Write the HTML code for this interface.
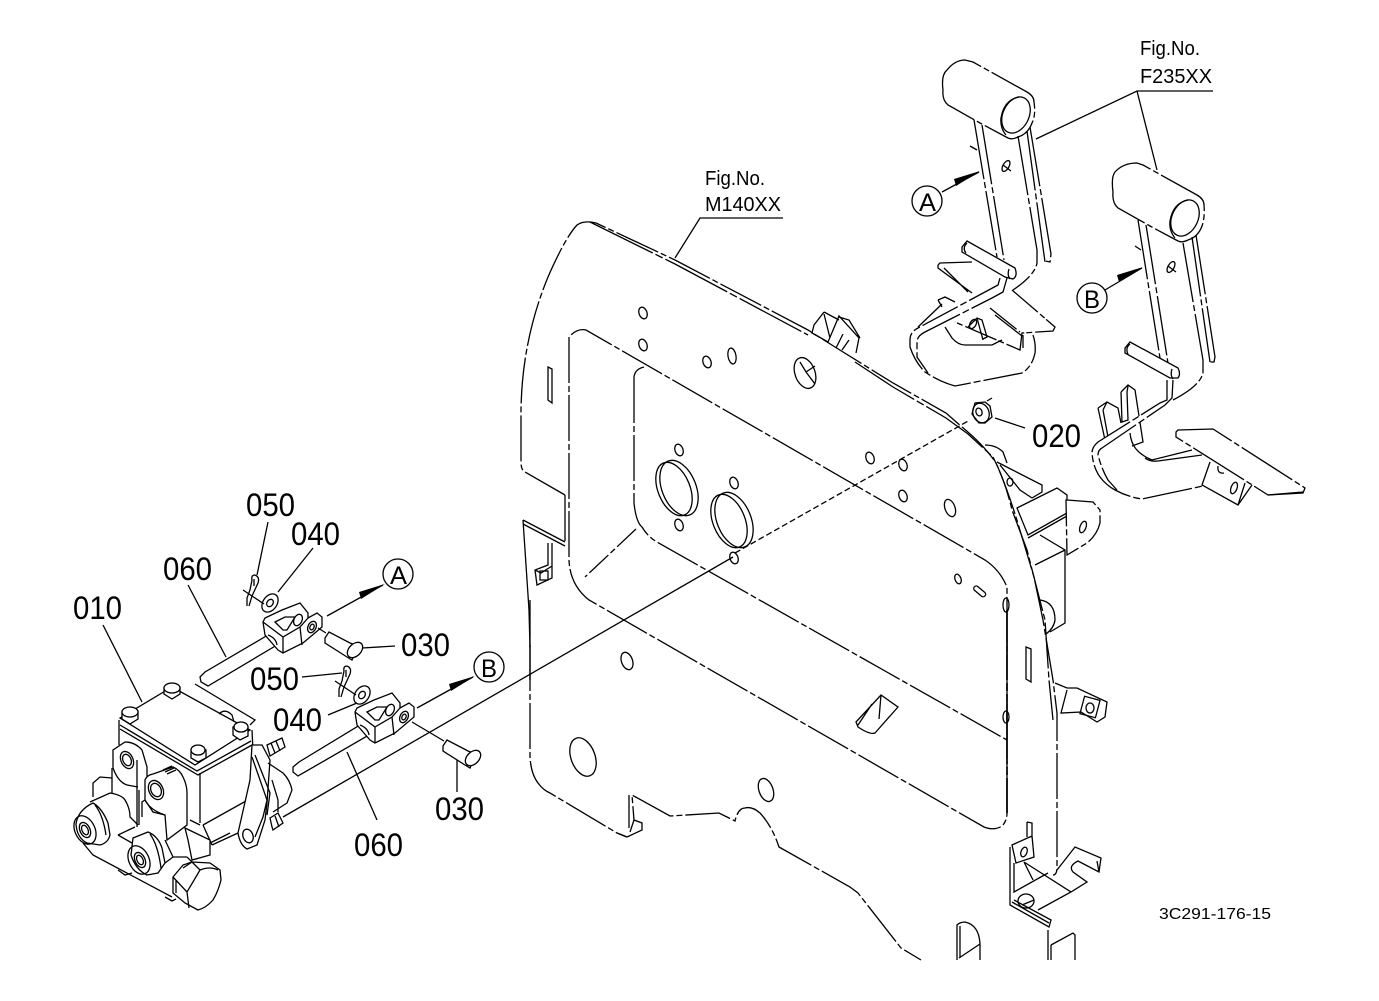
<!DOCTYPE html>
<html><head><meta charset="utf-8"><title>Diagram</title>
<style>
html,body{margin:0;padding:0;background:#fff}
svg{display:block}
text{font-family:"Liberation Sans",sans-serif;fill:#000;stroke:none}
.l{fill:none;stroke:#000;stroke-width:1.3}
.w{fill:#fff;stroke:#000;stroke-width:1.3}
.n{fill:#fff;stroke:none}
.d{stroke-dasharray:46 3 6 3}
.e{stroke-dasharray:70 3 8 3}
.t{stroke-width:1.7}
</style></head><body>
<svg width="1379" height="1001" viewBox="0 0 1379 1001" xmlns="http://www.w3.org/2000/svg">
<rect width="1379" height="1001" fill="#fff"/>

<!-- main panel -->
<g class="l">
<path class="l d" d="M565 495V542M565 495L525 472Q521 470 521 462V410Q522 340 548 277Q565 238 577 225Q584 220 596 223L675 260L808 330L835 347L893 383L946 413L962 427"/>
<path class="l e" d="M590 222L675 264L808 335M855 362L893 387L946 418L968 434L993 457"/>
<path class="l d" d="M962 427Q984 445 996 463Q1008 490 1019 527L1034 577L1043 620L1053 680L1057 713V867Q1057 875 1053 875"/>
<path class="l d" d="M993 457Q1005 480 1012 510L1027 550L1045 620L1049 680L1053 720"/>
<path class="l" d="M523 520L565 542M523 524L565 546M523 520L529 610L530 647"/>
<path class="l d" d="M530 645V757Q531 774 538 783Q543 790 550 793L617 833L627 837"/>
<path class="l" d="M530 600V680"/>
<path class="l d" d="M627 837L642 830V823L634 820L632 795L670 816L719 813L735 821Q738 808 745 808Q752 806 760 813Q772 826 779 847L850 887L858 893L901 948L921 960"/>
<path class="l" d="M634 820L630 832M629 795V828M627 837L617 833"/>
<path class="l d" d="M569 337V560Q570 585 589 600L984 827Q994 831 1002 826Q1007 821 1007 813V587Q1000 570 985 560L586 330Q577 328 569 337"/>
<path class="l t e" d="M1007 610V813"/>
<path class="l d" d="M634 377Q635 369 644 367M634 377V503Q636 522 642 527Q648 537 657 542L1007 740"/>
<path d="M636 529L585 577" stroke-dasharray="26 3 6 3"/>
<ellipse class="l" cx="1006" cy="605" rx="3" ry="7"/><ellipse class="l" cx="1006" cy="717" rx="3" ry="6"/>
</g>

<!-- holes -->
<g class="l">
<ellipse cx="643" cy="313" rx="4" ry="6" transform="rotate(-20 643 313)"/>
<ellipse cx="643" cy="345" rx="4" ry="6" transform="rotate(-20 643 345)"/>
<ellipse cx="707" cy="362" rx="4" ry="6" transform="rotate(-20 707 362)"/>
<ellipse cx="732" cy="356" rx="4" ry="8" transform="rotate(-10 732 356)"/>
<ellipse cx="805" cy="373" rx="10" ry="16" transform="rotate(-20 805 373)"/>
<path d="M800 362L806 372L815 366M806 372L815 384"/>
<ellipse cx="679" cy="450" rx="4" ry="6" transform="rotate(-20 679 450)"/>
<ellipse cx="734" cy="483" rx="4" ry="6" transform="rotate(-20 734 483)"/>
<ellipse cx="679" cy="525" rx="4" ry="6" transform="rotate(-20 679 525)"/>
<ellipse cx="734" cy="558" rx="4" ry="6" transform="rotate(-20 734 558)"/>
<ellipse cx="870" cy="458" rx="4" ry="6" transform="rotate(-20 870 458)"/>
<ellipse cx="903" cy="465" rx="4" ry="6" transform="rotate(-20 903 465)"/>
<ellipse cx="903" cy="496" rx="4" ry="6" transform="rotate(-20 903 496)"/>
<ellipse cx="950" cy="508" rx="5" ry="9" transform="rotate(-20 950 508)"/>
<ellipse cx="958" cy="579" rx="3" ry="5" transform="rotate(-20 958 579)"/>
<rect x="973" y="589" width="14" height="5" rx="2.5" transform="rotate(40 980 591)"/>
<ellipse cx="679" cy="488" rx="17" ry="29" transform="rotate(-22 679 488)"/>
<ellipse cx="674" cy="489" rx="16" ry="28" transform="rotate(-22 674 489)"/>
<ellipse cx="734" cy="520" rx="17" ry="29" transform="rotate(-22 734 520)"/>
<ellipse cx="729" cy="521" rx="16" ry="28" transform="rotate(-22 729 521)"/>
<ellipse cx="627" cy="661" rx="5.5" ry="9" transform="rotate(-20 627 661)"/>
<ellipse cx="583" cy="757" rx="12" ry="20" transform="rotate(-20 583 757)"/>
<ellipse cx="766" cy="790" rx="7" ry="12" transform="rotate(-20 766 790)"/>
<path d="M856 722L881 695L898 707L875 733Q870 735 858 727ZM881 695L879 719M872 704L858 725"/>
<path d="M548 367L552 369V403L548 400Z"/>
<path d="M1026 647L1031 649V682L1026 679Z"/>
</g>

<!-- brackets on panel -->
<g class="l">
<path d="M548 543V565L535 570L537 585L552 578V543M535 570L541 573L552 566"/><rect x="540" y="571" width="8" height="9"/>
<path d="M824 312L814 325L812 333L828 342L839 316L859 338L856 353M824 312L839 320M839 317L849 320L860 338M824 314L830 338M843 334L836 348M849 340L842 350"/>
<path d="M997 462L1042 485V492L1032 498M985 445Q996 445 1003 452L1007 463M1000 465L1012 480L1020 490L1032 498"/>
<ellipse cx="1010" cy="482" rx="3" ry="4"/>
<path class="w" d="M1017 508L1057 488L1067 495V513L1028 535Z"/>
<path d="M1028 538L1067 516"/>
<path class="w" d="M1067 500L1093 502L1100 510V523Q1097 535 1087 543L1067 555L1066 500Z" stroke-dasharray="30 3 6 3"/>
<ellipse cx="1083" cy="527" rx="3" ry="6" transform="rotate(20 1083 527)"/>
<path d="M1040 535L1065 550V623L1050 632M1035 565L1065 550M1040 600Q1055 602 1055 620Q1054 628 1046 634"/>
<path d="M1055 683L1067 688H1077L1107 702L1105 717L1097 722L1081 712L1061 713L1067 690"/>
<rect x="1082" y="698" width="16" height="18" transform="rotate(15 1090 707)"/>
<ellipse cx="1090" cy="708" rx="4" ry="5"/>
<path d="M1027 822L1032 823V838M1027 822V837M1012 845L1032 836L1034 857L1016 863ZM1010 847V905L1049 927L1051 920L1014 900M1014 863V892L1048 873M1024 862L1071 892L1038 910M1024 862L1033 880M1071 892L1087 882L1073 872Q1068 866 1078 861L1099 872L1101 858L1075 847L1057 870M1097 861L1099 872M1012 902L1049 923"/>
<ellipse cx="1024" cy="852" rx="3" ry="5" transform="rotate(20 1024 852)"/>
<ellipse cx="1026" cy="901" rx="8" ry="7"/>
<path d="M1022 905L1034 900"/>
<path d="M957 960V925Q960 922 965 922Q979 925 980 944V960M959 958L980 944M960 926V957"/>
<path d="M1048 930V960M1051 945L1073 933L1075 935V960M1051 945V960"/>
</g>

<!-- explode line -->
<g class="l">
<path d="M283 817L733 557"/>
<path d="M735 553L970 420" stroke-dasharray="6 3"/>
</g>

<!-- nut -->
<g class="l">
<path class="w" d="M985 402L990 406L992 417L985 423H979L972 414L975 403Z"/>
<ellipse cx="981" cy="413" rx="8" ry="10" transform="rotate(-20 981 413)"/>
<ellipse cx="979" cy="412" rx="3" ry="4" transform="rotate(-20 979 412)"/>
<path d="M995 418L1025 428"/>
<path d="M987 401L992 398"/>
</g>

<!-- lever A -->
<g class="l">
<path class="w" d="M943 90Q941 75 947 70Q955 60 965 60L973 62L1027 92Q1034 96 1034 102Q1036 115 1032 123Q1028 134 1018 137Q1012 140 1008 138L980 123L948 105Q942 100 943 90Z" stroke-dasharray="60 3 6 3"/>
<ellipse cx="1016" cy="115" rx="13" ry="19" transform="rotate(25 1016 115)"/>
<path d="M1019 97Q1004 100 1001 118Q1000 128 1006 135"/>
<path d="M974 120L997 257M982 125L1004 260M1018 136L1037 250V263Q1035 275 1013 290M1027 131L1045 262M1030 127L1051 254L1050 262L1045 261" stroke-dasharray="60 3 6 3"/>
<ellipse cx="1006" cy="166" rx="3" ry="6" transform="rotate(30 1006 166)"/>
<path d="M1003 165L1011 171M970 146L977 150"/>
<path d="M945 327L952 338Q958 345 965 345H992L1002 340" />
<path d="M938 300L945 297L955 302M938 300L942 307"/>
<path d="M938 265L940 263L972 262M938 265V268L972 293M944 268L968 292"/>
<path d="M1012 290L1055 327L1053 331L1022 333L1020 350L955 322M990 308L1020 332M995 315L1022 336M1023 335V348" stroke-dasharray="34 3 6 2"/>
<path d="M968 327L977 318L982 320L987 337L983 339M977 318L983 340"/>
<ellipse cx="973" cy="324" rx="3" ry="5" transform="rotate(30 973 324)"/>
<path class="w" d="M962 247L967 241L1015 268Q1018 276 1013 279L1005 277L962 252Z"/>
<path d="M967 243Q962 248 966 253M1009 269Q1007 275 1010 279"/>
<path class="n" d="M1000 278L998 285L918 328L910 337V347L925 372L955 386L928 373L917 357V340L925 332L992 298L1003 292L1007 278Z"/>
<path d="M1000 278L998 285L918 328Q910 332 910 340V347Q915 362 925 372Q940 382 955 386L1022 373Q1032 367 1035 353Q1036 344 1033 335" stroke-dasharray="40 3 7 3"/>
<path d="M1007 278L1003 292L992 298L925 332Q917 336 917 342V357L928 373" stroke-dasharray="50 3 7 3"/>
<path d="M918 327L942 304"/>
</g>

<!-- lever B -->
<g class="l">
<path class="w" d="M1113 192Q1111 177 1115 172Q1123 163 1137 163L1143 165L1197 195Q1204 199 1204 205Q1205 218 1202 226Q1198 237 1188 240Q1182 243 1178 241L1150 226L1118 208Q1112 203 1113 192Z" stroke-dasharray="60 3 6 3"/>
<ellipse cx="1185" cy="218" rx="13" ry="19" transform="rotate(25 1185 218)"/>
<path d="M1188 200Q1173 203 1170 221Q1169 231 1175 238"/>
<path d="M1138 220L1160 358M1146 225L1168 363M1183 243L1203 360V373Q1200 386 1173 400M1192 237L1210 362M1196 235L1215 357L1214 362L1210 362" stroke-dasharray="60 3 6 3"/>
<ellipse cx="1171" cy="267" rx="3" ry="6" transform="rotate(30 1171 267)"/>
<path d="M1168 266L1176 272M1135 246L1141 250"/>
<path class="w" d="M1125 348L1130 342L1178 368Q1181 374 1178 378H1170L1125 353Z"/>
<path d="M1130 344Q1125 348 1128 354M1172 369Q1170 375 1173 379"/>
<path d="M1098 408L1107 402L1118 408L1121 423M1098 408L1105 440M1103 410L1108 437M1103 410L1107 402"/>
<path d="M1121 392L1128 385L1135 390L1143 442L1132 446M1121 392L1122 422L1128 420L1127 392L1128 386"/>
<path d="M1130 433Q1131 443 1136 449Q1142 456 1152 460L1192 450M1145 458Q1150 462 1158 461L1202 455"/>
<path class="n" d="M1167 383V400L1160 403L1098 442L1092 453L1100 477L1115 490L1117 490L1108 480L1098 455L1102 448L1165 405L1172 398L1173 383Z"/>
<path d="M1167 380V400L1160 403L1098 442Q1092 447 1092 453Q1093 467 1100 477Q1106 485 1115 490Q1128 497 1142 499L1203 486" stroke-dasharray="50 3 7 3"/>
<path d="M1173 380L1172 398L1165 405L1102 448Q1098 450 1098 455Q1102 470 1108 480L1117 490" stroke-dasharray="50 3 7 3"/>
<path class="w" d="M1176 432L1178 430L1213 429L1305 488L1303 493L1268 495L1257 488L1176 437Z" stroke-dasharray="60 3 6 3"/>
<path d="M1210 462L1202 485L1238 505L1252 485M1245 483L1238 505M1218 466Q1217 474 1224 473"/>
<ellipse cx="1234" cy="488" rx="3" ry="6" transform="rotate(20 1234 488)"/>
<path d="M1268 495L1303 492"/>
</g>

<!-- leaders -->
<g class="l">
<path d="M1213 91H1137L1036 139M1137 91L1157 170"/>
<path d="M783 218H700L675 258" />
<path d="M268 522L257 575M313 548L278 592M188 585L226 657M103 625L142 702M395 646L362 648M302 677L342 673M328 715L357 703M347 752L377 820M457 758V792"/>
</g>

<!-- cylinder -->
<g class="l">
<path class="n" d="M119 727L120 716L172 687L250 730L252 745H262L270 760L285 770L292 790L285 805L273 815L265 820L257 845L247 849L238 833L212 845L221 875L213 900L198 910L172 893L90 850L76 835L80 808L93 783L100 777L112 778L115 750Z"/>
<path d="M120 718L172 687L250 730L195 765Z" />
<path d="M120 725L197 771L251 741M120 729L198 775L252 745M119 720V745M252 730L255 796L203 825"/>
<path d="M200 773V823M190 820L200 825"/>
<g class="w">
<path d="M122 712L130 707L138 711V719L130 724L122 719Z"/><ellipse cx="130" cy="712" rx="8" ry="5"/>
<path d="M164 688L172 683L180 687V694L172 699L164 694Z"/><ellipse cx="172" cy="688" rx="8" ry="5"/>
<path d="M233 727L241 723L248 727V736L240 740L233 735Z"/><ellipse cx="241" cy="727" rx="7" ry="5"/>
<path d="M191 750L199 746L206 750V758L198 762L191 758Z"/><ellipse cx="198" cy="750" rx="7" ry="5"/>
</g>
<path d="M219 714Q225 708 232 715L234 722"/>
<!-- flange -->
<path class="w" d="M252 745H262L270 760L267 803L265 820L257 845L247 849Q240 845 238 833L250 780Z"/>
<path d="M252 757L267 800L263 817L255 837M255 755L270 793L267 815"/>
<path d="M212 845L238 833M203 825L212 845"/>
<path d="M268 763L283 773Q290 780 292 790L287 803L273 812M272 780L278 800V812"/>
<path d="M267 745L282 738L285 747L270 756ZM271 743L275 753M276 741L280 751"/>
<path d="M272 827L270 818L278 813L283 823L273 830ZM275 816L279 827"/>
<ellipse cx="248" cy="836" rx="5" ry="7" transform="rotate(-20 248 836)"/>
<!-- lug 1 -->
<path d="M113 768V750L125 742Q135 742 142 750L147 767V777M113 768Q118 782 127 785L138 787"/>
<ellipse cx="127" cy="760" rx="6" ry="9" transform="rotate(-25 127 760)"/>
<ellipse cx="127" cy="760" rx="4" ry="6" transform="rotate(-25 127 760)"/>
<path d="M137 760V827M139 790V825"/>
<!-- back tab -->
<path d="M93 797V783L100 777L112 778M112 768V793"/>
<!-- left port -->
<path d="M90 802L110 793Q122 795 125 800Q130 808 130 817L138 825"/>
<path d="M118 835L135 827M118 835L132 843"/>
<path class="w" d="M76 824Q78 810 93 803Q102 808 108 823L110 835Q108 843 100 845L87 843Q77 838 76 824Z"/>
<path d="M95 805Q103 815 106 835"/>
<ellipse cx="85" cy="830" rx="10" ry="15" transform="rotate(-25 85 830)"/>
<ellipse cx="85" cy="830" rx="5" ry="8" transform="rotate(-25 85 830)"/>
<ellipse cx="85" cy="830" rx="3" ry="5" transform="rotate(-25 85 830)"/>
<!-- lug 2 -->
<path class="w" d="M145 780Q147 775 153 774L173 767Q180 770 183 777Q187 785 187 793V825L167 840L165 815L153 812L145 800Z"/>
<path d="M145 800L142 802V817M145 800Q150 810 165 815"/>
<path d="M163 770L172 766M165 772L174 768M167 774L176 770"/>
<ellipse cx="156" cy="790" rx="7" ry="10" transform="rotate(-25 156 790)"/>
<ellipse cx="156" cy="790" rx="5" ry="7" transform="rotate(-25 156 790)"/>
<!-- right port -->
<path d="M173 857L165 863M165 840L173 857H187"/>
<path class="w" d="M133 838L148 832Q158 836 162 848L165 863L158 873L147 875Q136 870 131 855Z"/>
<path d="M150 834Q158 845 161 868"/>
<ellipse cx="139" cy="860" rx="10" ry="15" transform="rotate(-25 139 860)"/>
<ellipse cx="140" cy="860" rx="5" ry="8" transform="rotate(-25 140 860)"/>
<ellipse cx="140" cy="860" rx="3" ry="5" transform="rotate(-25 140 860)"/>
<!-- bottom -->
<path d="M83 843L93 855L172 897"/>
<path d="M118 870L125 875L132 873M165 897L172 901L176 899"/>
<!-- block -->
<path class="w" d="M185 828L210 840V855L192 860L188 840Z"/>
<path d="M187 857L192 862M210 843L230 833"/>
<!-- plug -->
<path class="w" d="M173 877L183 865L192 862L210 863L220 870L221 880Q218 892 213 900Q206 908 198 910L185 903L173 893Z"/>
<path d="M192 862L183 868M200 870L192 862M200 870L187 892L173 877M187 892L189 908M200 870Q210 866 218 870M176 880V893"/>
</g>

<!-- yoke A -->
<g class="l">
<path class="w" d="M200 677L205 672L268 635L277 645L208 686L201 682Z"/>
<path class="w" d="M263 622L265 618L282 610L300 603L308 613V618L317 613L322 617V627L303 643L283 653L278 650L265 635Z"/>
<path d="M263 622L283 637V653M283 637L300 627L308 618M300 627L302 645"/>
<path d="M275 622L285 617H295L287 630H283Z"/>
<path d="M268 635Q276 638 277 645"/>
<ellipse cx="298" cy="620" rx="4" ry="6" transform="rotate(25 298 620)"/>
<ellipse cx="312" cy="627" rx="4" ry="6" transform="rotate(25 312 627)"/>
<ellipse cx="312" cy="627" rx="2" ry="3" transform="rotate(25 312 627)"/>
</g>
<!-- yoke B -->
<g class="l">
<path class="w" d="M293 767L299 762L360 725L369 735L298 776L293 772Z"/>
<path class="w" d="M355 712L357 708L374 700L392 693L400 703V708L409 703L414 707V717L395 733L375 743L370 740L357 725Z"/>
<path d="M355 712L375 727V743M375 727L392 717L400 708M392 717L394 735"/>
<path d="M367 712L377 707H387L379 720H375Z"/>
<path d="M360 725Q368 728 369 735"/>
<ellipse cx="390" cy="710" rx="4" ry="6" transform="rotate(25 390 710)"/>
<ellipse cx="404" cy="717" rx="4" ry="6" transform="rotate(25 404 717)"/>
<ellipse cx="404" cy="717" rx="2" ry="3" transform="rotate(25 404 717)"/>
</g>
<!-- rod guide -->
<path class="l" d="M195 684L255 720L250 725"/>

<!-- pins -->
<g class="l">
<path class="w" d="M325 638L329 632L350 643L358 646L352 660L347 657L325 643Z"/>
<ellipse cx="355" cy="650" rx="6" ry="9" transform="rotate(45 355 650)" fill="#fff"/>
<path class="w" d="M443 746L447 740L468 751L476 754L470 768L465 765L443 751Z"/>
<ellipse cx="473" cy="758" rx="6" ry="9" transform="rotate(45 473 758)" fill="#fff"/>
<path d="M412 722L444 741M318 628L326 633"/>
</g>

<!-- clips and washers -->
<g class="l">
<path d="M255 575Q251 575 252 580L250 590L247 598V606M255 575Q260 577 258 583L252 596L249 606M254 579V586M243 590L264 604"/>
<ellipse cx="270" cy="603" rx="7" ry="10" transform="rotate(35 270 603)"/>
<ellipse cx="270" cy="603" rx="3" ry="4" transform="rotate(35 270 603)"/>
<path d="M347 666Q343 666 344 671L342 681L339 689V697M347 666Q352 668 350 674L344 687L341 697M346 670V677M335 681L356 695"/>
<ellipse cx="362" cy="695" rx="7" ry="10" transform="rotate(35 362 695)"/>
<ellipse cx="362" cy="695" rx="3" ry="4" transform="rotate(35 362 695)"/>
</g>

<!-- arrows -->
<g class="l">
<path d="M327 616L383 585"/><path d="M417 708L473 677"/><path d="M942 192L979 172"/><path d="M1105 290L1142 268"/>
</g>
<g fill="#000">
<path d="M385 584L359 592L361 599Z"/>
<path d="M475 676L449 684L451 691Z"/>
<path d="M980 171L954 179L956 186Z"/>
<path d="M1143 267L1117 275L1119 282Z"/>
</g>
<g fill="#fff" stroke="#000" stroke-width="1.3">
<circle cx="398" cy="574" r="15"/><circle cx="489" cy="667" r="15"/><circle cx="927" cy="201" r="15"/><circle cx="1092" cy="298" r="15"/>
</g>

<!-- labels -->
<text x="390" y="584" font-size="25" textLength="17" lengthAdjust="spacingAndGlyphs">A</text>
<text x="481" y="677" font-size="25" textLength="16" lengthAdjust="spacingAndGlyphs">B</text>
<text x="919" y="211" font-size="25" textLength="17" lengthAdjust="spacingAndGlyphs">A</text>
<text x="1084" y="308" font-size="25" textLength="16" lengthAdjust="spacingAndGlyphs">B</text>
<text x="1140" y="55" font-size="20" textLength="60" lengthAdjust="spacingAndGlyphs">Fig.No.</text>
<text x="1140" y="83" font-size="20" textLength="72" lengthAdjust="spacingAndGlyphs">F235XX</text>
<text x="705" y="185" font-size="20" textLength="60" lengthAdjust="spacingAndGlyphs">Fig.No.</text>
<text x="705" y="211" font-size="20" textLength="76" lengthAdjust="spacingAndGlyphs">M140XX</text>
<g font-size="32">
<text x="246" y="516" textLength="49" lengthAdjust="spacingAndGlyphs">050</text>
<text x="291" y="545" textLength="49" lengthAdjust="spacingAndGlyphs">040</text>
<text x="163" y="580" textLength="49" lengthAdjust="spacingAndGlyphs">060</text>
<text x="73" y="619" textLength="49" lengthAdjust="spacingAndGlyphs">010</text>
<text x="401" y="656" textLength="49" lengthAdjust="spacingAndGlyphs">030</text>
<text x="250" y="690" textLength="49" lengthAdjust="spacingAndGlyphs">050</text>
<text x="273" y="731" textLength="49" lengthAdjust="spacingAndGlyphs">040</text>
<text x="354" y="856" textLength="49" lengthAdjust="spacingAndGlyphs">060</text>
<text x="435" y="820" textLength="49" lengthAdjust="spacingAndGlyphs">030</text>
<text x="1032" y="447" textLength="49" lengthAdjust="spacingAndGlyphs">020</text>
</g>
<text x="1159" y="919" font-size="16" textLength="112" lengthAdjust="spacingAndGlyphs">3C291-176-15</text>
</svg>
</body></html>
